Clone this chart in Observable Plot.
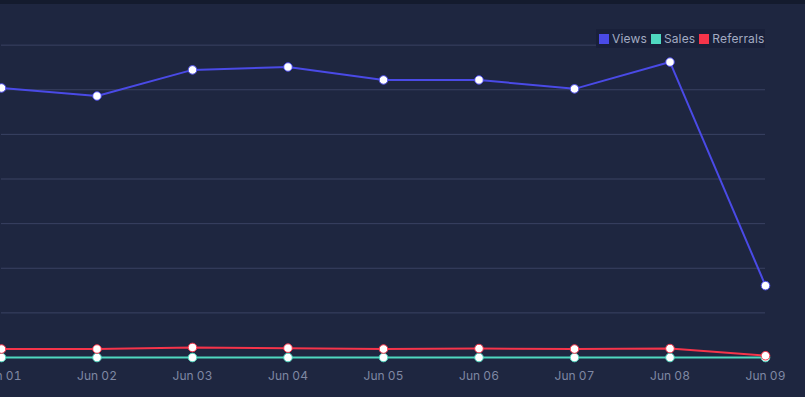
<!DOCTYPE html>
<html>
<head>
<meta charset="utf-8">
<script src="https://cdn.jsdelivr.net/npm/d3@7"></script>
<script src="https://cdn.jsdelivr.net/npm/@observablehq/plot@0.6"></script>
<style>
  html, body { margin: 0; padding: 0; background: #1e2640; overflow: hidden; }
  #wrap { position: relative; width: 805px; height: 397px; }
  #topbar { position: absolute; left: 0; top: 0; width: 805px; height: 4px; background: #141b2e; z-index: 2; }
  #legend { position: absolute; left: 596px; top: 29px; height: 19px; width: 169px; background: #19203a;
            display: flex; align-items: center; font-family: Inter, "Open Sans", sans-serif; font-size: 12px; letter-spacing: 0.15px; color: #a3abc2; z-index: 3; }
  #legend .item { display: flex; align-items: center; margin-left: 3px; margin-right: 1px; }
  #legend .sw { width: 10px; height: 10px; margin-right: 3px; }
  svg { display: block; }
</style>
</head>
<body>
<div id="wrap">
  <div id="topbar"></div>
  <div id="legend"></div>
  <div id="chart"></div>
</div>
<script>
const dates = ["2024-06-01","2024-06-02","2024-06-03","2024-06-04","2024-06-05","2024-06-06","2024-06-07","2024-06-08","2024-06-09"];
const views = [1208, 1172, 1289, 1302, 1244, 1244, 1204, 1324, 322];
const sales = [0, 0, 0, 0, 0, 0, 0, 0, 0];
const referrals = [38, 38, 45, 42, 38, 40, 38, 40, 8];
const seriesNames = ["Views", "Sales", "Referrals"];
const seriesColors = ["#4a4ae6", "#4fd8c0", "#f5344a"];

const data = [];
[views, sales, referrals].forEach((arr, s) => {
  arr.forEach((v, i) => data.push({date: new Date(dates[i]), value: v, series: seriesNames[s]}));
});

const legend = document.getElementById("legend");
seriesNames.forEach((n, i) => {
  const it = document.createElement("div");
  it.className = "item";
  it.innerHTML = `<span class="sw" style="background:${seriesColors[i]}"></span><span>${n}</span>`;
  legend.appendChild(it);
});

const chart = Plot.plot({
  width: 805,
  height: 397,
  marginLeft: 1,
  marginRight: 40,
  marginTop: 0,
  marginBottom: 40,
  style: {background: "transparent", fontFamily: "Inter, 'Open Sans', sans-serif", fontSize: "12px", color: "#7f88a3"},
  x: {type: "utc", domain: [new Date(dates[0]), new Date(dates[dates.length - 1])], label: null},
  y: {domain: [0, 1600], label: null, axis: null},
  color: {domain: seriesNames, range: seriesColors},
  marks: [
    Plot.gridY({ticks: d3.range(200, 1601, 200), stroke: "#3a4262", strokeOpacity: 1, strokeWidth: 1}),
    Plot.axisX({ticks: dates.map(d => new Date(d)), tickFormat: d3.utcFormat("%b %d"), tickSize: 0, tickPadding: 14, fill: "#7f88a3", fontSize: 12}),
    Plot.line(data, {x: "date", y: "value", stroke: "series", z: "series", strokeWidth: 2}),
    Plot.dot(data, {x: "date", y: "value", stroke: "series", fill: "white", r: 4.3, strokeWidth: 1})
  ]
});
document.getElementById("chart").appendChild(chart);
</script>
</body>
</html>
